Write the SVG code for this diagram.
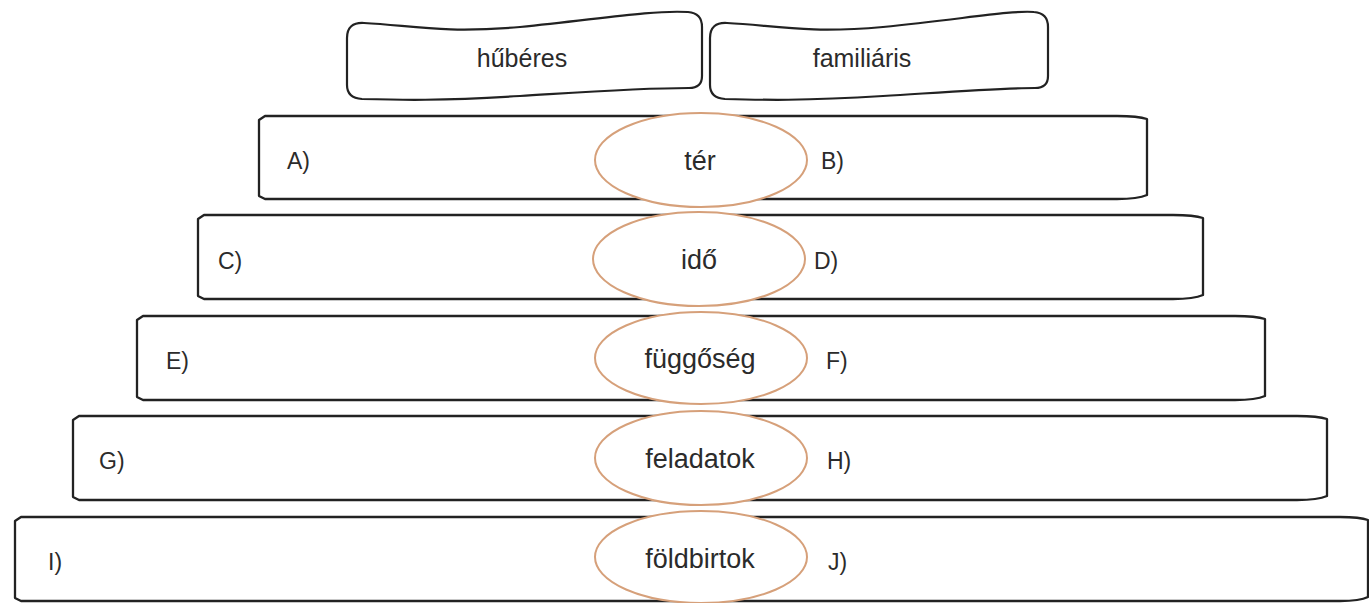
<svg xmlns="http://www.w3.org/2000/svg" width="1369" height="603" viewBox="0 0 1369 603">
<style>
.bar{fill:#fff;stroke:#222;stroke-width:2.3;stroke-linejoin:round}
.flag{fill:#fff;stroke:#222;stroke-width:2.2}
.ell{fill:#fff;stroke:#d6a07a;stroke-width:2}
.t{font-family:"Liberation Sans",Arial,sans-serif;font-size:27px;fill:#2b2b2b;text-anchor:middle}
.h{font-family:"Liberation Sans",Arial,sans-serif;font-size:25px;fill:#2b2b2b;text-anchor:middle}
.l{font-family:"Liberation Sans",Arial,sans-serif;font-size:23px;fill:#2b2b2b}
</style>
<rect width="1369" height="603" fill="#fff"/>
<g id="hubéres">
<path class="flag" d="M347,38 Q347,22 364,23 C410,25 440,34 520,27 C600,19 650,10 688,12 Q702,13 702,27 L702,76 Q702,88 689,88 C640,88 600,91 520,96 C440,101 400,100 362,99 Q347,98 347,85 Z"/>
<text class="h" x="522" y="67">hűbéres</text>
</g>
<g id="familiaris">
<path class="flag" d="M710,38 Q710,22 727,23 C773,25 803,34 883,27 C963,19 1013,10 1034,12 Q1048,13 1048,27 L1048,76 Q1048,88 1035,88 C1003,88 963,91 883,96 C803,101 763,100 725,99 Q710,98 710,85 Z"/>
<text class="h" x="862" y="67">familiáris</text>
</g>
<g id="row1">
<path class="bar" d="M259,120 L265,116 L1117,116 Q1138,116 1147,119 L1147,195 Q1138,199 1117,199 L265,199 L259,196 Z"/>
<text class="l" x="287" y="169">A)</text>
<text class="l" x="821" y="169">B)</text>
</g>
<g id="row2">
<path class="bar" d="M198,219 L204,215 L1173,215 Q1194,215 1203,218 L1203,295 Q1194,299 1173,299 L204,299 L198,296 Z"/>
<text class="l" x="218" y="269">C)</text>
<text class="l" x="814" y="269">D)</text>
</g>
<g id="row3">
<path class="bar" d="M137,320 L143,316 L1235,316 Q1256,316 1265,319 L1265,396 Q1256,400 1235,400 L143,400 L137,397 Z"/>
<text class="l" x="166" y="369">E)</text>
<text class="l" x="826" y="369">F)</text>
</g>
<g id="row4">
<path class="bar" d="M73,420 L79,416 L1297,416 Q1318,416 1327,419 L1327,496 Q1318,500 1297,500 L79,500 L73,497 Z"/>
<text class="l" x="99" y="469">G)</text>
<text class="l" x="827" y="469">H)</text>
</g>
<g id="row5">
<path class="bar" d="M15,521 L21,517 L1340,517 Q1360,517 1368,520 L1368,597 Q1360,601 1340,601 L21,601 L15,598 Z"/>
<text class="l" x="48" y="570">I)</text>
<text class="l" x="828" y="570">J)</text>
</g>
<g id="ter">
<ellipse class="ell" cx="701" cy="160" rx="106" ry="47"/>
<text class="t" x="700" y="170">tér</text>
</g>
<g id="ido">
<ellipse class="ell" cx="699" cy="259" rx="106" ry="47"/>
<text class="t" x="699" y="269">idő</text>
</g>
<g id="fuggoseg">
<ellipse class="ell" cx="701" cy="358" rx="106" ry="46"/>
<text class="t" x="700" y="368">függőség</text>
</g>
<g id="feladatok">
<ellipse class="ell" cx="701" cy="458" rx="106" ry="47"/>
<text class="t" x="700" y="468">feladatok</text>
</g>
<g id="foldbirtok">
<ellipse class="ell" cx="701" cy="557" rx="106" ry="46"/>
<text class="t" x="700" y="568">földbirtok</text>
</g>
<g id="connectors"></g>
</svg>
